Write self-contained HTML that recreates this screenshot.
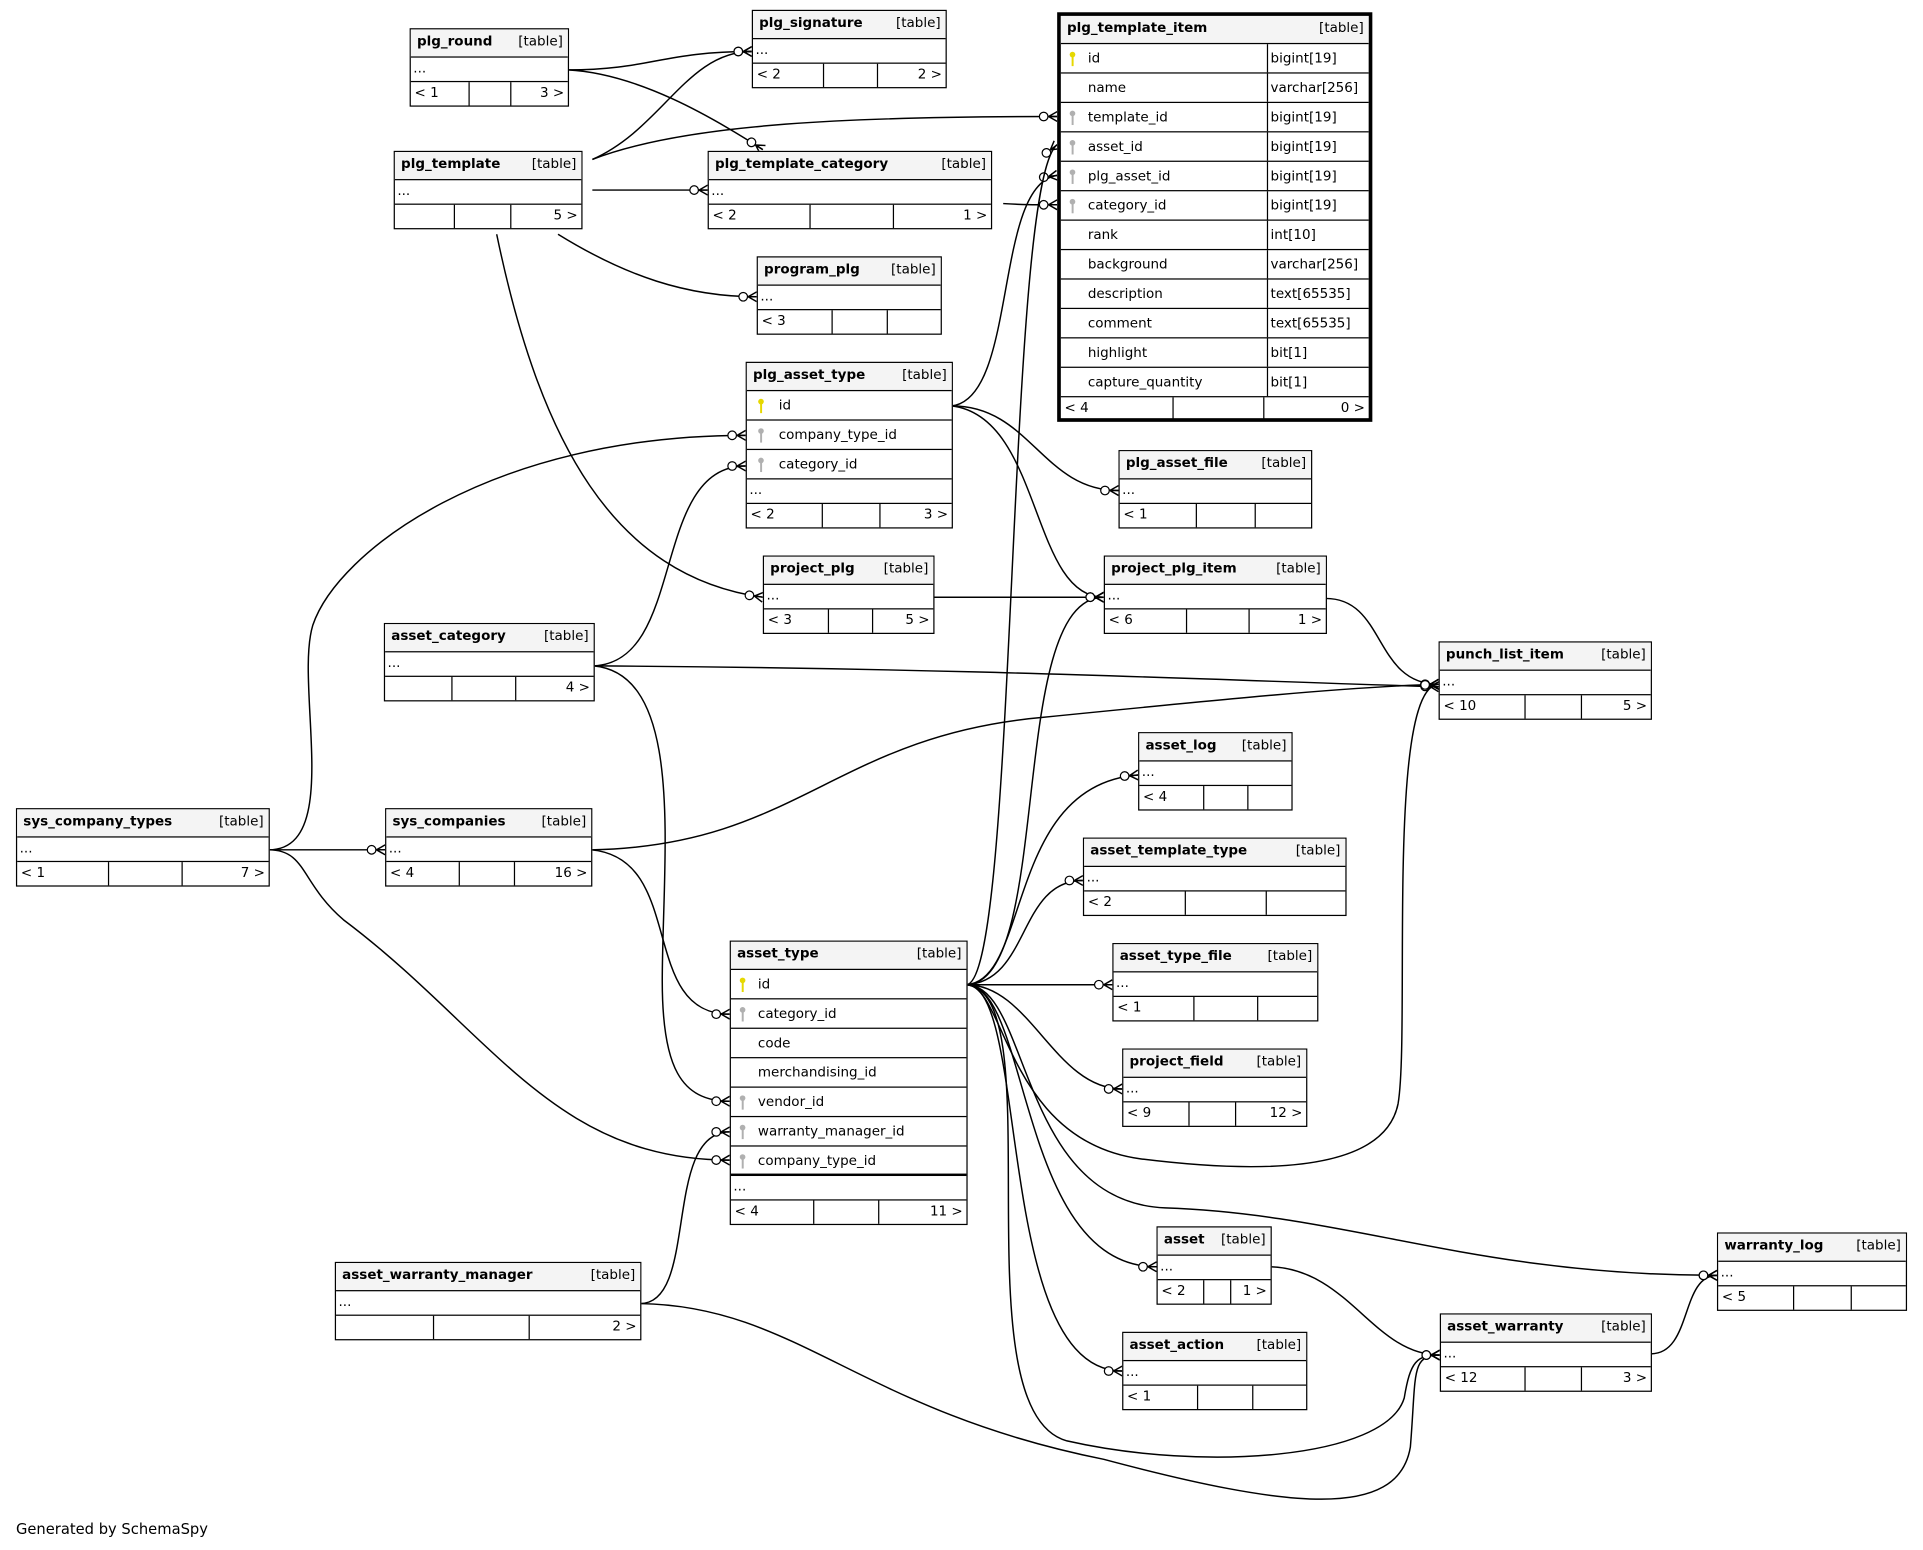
<!DOCTYPE html>
<html><head><meta charset="utf-8"><style>
html,body{margin:0;padding:0;background:#fff;width:1923px;height:1550px;overflow:hidden}
#c{position:absolute;left:0;top:0;width:1568px;height:1264px;transform:scale(1.2264,1.2263);transform-origin:0 0}
svg{position:absolute;left:0;top:0}
.t{position:absolute;border:1px solid #000;background:#fff;box-sizing:border-box;font:11px "DejaVu Sans","Liberation Sans",sans-serif;color:#000}
.t.b{border:3px solid #000}
.h{height:23px;background:#f4f4f4;border-bottom:1px solid #000;display:flex;justify-content:space-between;padding:3px 4px 0 5px;box-sizing:border-box;font-size:11px}
.h b{font-weight:bold}
.r{height:20px;border-bottom:1px solid #000;line-height:18px;padding-left:2px;box-sizing:border-box}
.c{height:24px;border-bottom:1px solid #000;line-height:23px;position:relative;padding-left:22px;box-sizing:border-box;display:flex}
.c .n{flex:1}
.c .y{border-left:1px solid #000;padding-left:2px}
.f{height:19px;display:flex;line-height:18px}
.f span{box-sizing:border-box;padding:0 3px}
.f span+span{border-left:1px solid #000}
.f span:last-child{text-align:right}
.k{position:absolute;left:7px;top:6px;width:5px;height:12px}
.foot{position:absolute;left:13px;top:1240px;font:12px "DejaVu Sans","Liberation Sans",sans-serif}
</style></head><body><div id="c">
<svg width="1568" height="1264" viewBox="0 0 1568 1264">
<defs>
<marker id="m" markerUnits="userSpaceOnUse" markerWidth="20" markerHeight="12" refX="18" refY="6" orient="auto" viewBox="0 0 20 12">
<circle cx="7" cy="6" r="3.5" fill="#fff" stroke="#000" stroke-width="1"/>
<path d="M11,6 L18,6 M11,6 L18,2 M11,6 L18,10" stroke="#000" stroke-width="1.2" fill="none"/>
</marker>
</defs>
<g fill="none" stroke="#000" stroke-width="1.2" marker-end="url(#m)">
<path d="M463,57 C530,57 540,42 613,42"/>
<path d="M463,57 C520,60 580,95 622,122"/>
<path d="M483,130 C540,105 560,42 613,42"/>
<path d="M483,130 C560,100 700,95 862,95"/>
<path d="M483,155 L577,155"/>
<path d="M455,191 C510,225 560,242 617,242"/>
<path d="M405,191 C440,360 500,470 622,487"/>
<path d="M818,166 C835,167 840,167 862,167"/>
<path d="M776,331 C830,325 810,150 862,143"/>
<path d="M776,331 C840,331 850,400 912,400"/>
<path d="M776,331 C850,340 840,487 900,487"/>
<path d="M219,693 C280,693 240,560 255,510 C275,450 400,355 608,355"/>
<path d="M484,543 C560,540 530,380 608,380"/>
<path d="M484,543 C800,545 1000,555 1173,560"/>
<path d="M484,543 C560,550 540,700 540,800 C540,870 555,898 595,898"/>
<path d="M761,487 L900,487"/>
<path d="M1081,488 C1130,488 1120,558 1173,558"/>
<path d="M482,693 C650,690 680,600 850,585 C1000,570 1100,560 1173,558"/>
<path d="M219,693 L314,693"/>
<path d="M482,693 C560,700 520,827 595,827"/>
<path d="M219,693 C250,693 245,720 280,750 C400,840 450,946 595,946"/>
<path d="M522,1063 C570,1063 540,923 595,923"/>
<path d="M522,1063 C650,1065 700,1150 900,1190 C1050,1230 1140,1240 1150,1180 C1155,1120 1150,1105 1174,1105"/>
<path d="M788,803 C830,800 820,150 862,118"/>
<path d="M788,803 C860,800 820,487 900,487"/>
<path d="M788,803 C840,800 820,640 928,632"/>
<path d="M788,803 C840,800 830,718 883,718"/>
<path d="M788,803 L907,803"/>
<path d="M788,803 C840,803 860,888 915,888"/>
<path d="M788,803 C820,803 820,930 930,945 C1050,960 1130,950 1140,900 C1150,840 1130,560 1173,558"/>
<path d="M788,803 C840,803 830,980 950,985 C1100,990 1200,1040 1400,1040"/>
<path d="M788,803 C840,803 830,1033 943,1033"/>
<path d="M788,803 C840,803 810,1118 915,1118"/>
<path d="M788,803 C860,810 780,1150 870,1175 C980,1200 1130,1190 1145,1140 C1150,1110 1155,1105 1174,1105"/>
<path d="M1036,1033 C1100,1035 1120,1105 1174,1105"/>
<path d="M1346,1104 C1380,1104 1370,1040 1400,1040"/>
</g>
</svg>

<div class="t" style="left:334px;top:23px;width:130px"><div class="h"><b>plg_round</b><span>[table]</span></div><div class="r">...</div><div class="f"><span style="width:47px">&lt; 1</span><span style="width:34px"></span><span style="flex:1">3 &gt;</span></div></div>

<div class="t" style="left:613px;top:8px;width:159px"><div class="h"><b>plg_signature</b><span>[table]</span></div><div class="r">...</div><div class="f"><span style="width:57px">&lt; 2</span><span style="width:44px"></span><span style="flex:1">2 &gt;</span></div></div>

<div class="t b" style="left:862px;top:10px;width:257px;height:334px"><div class="h"><b>plg_template_item</b><span>[table]</span></div>
<div class="c"><svg class="k" viewBox="0 0 5 12"><circle cx="2.5" cy="2.5" r="2.3" fill="#e6d800"/><rect x="1.8" y="3" width="1.6" height="9" fill="#e6d800"/></svg><span class="n">id</span><span class="y" style="width:80px">bigint[19]</span></div>
<div class="c"><span class="n">name</span><span class="y" style="width:80px">varchar[256]</span></div>
<div class="c"><svg class="k" viewBox="0 0 5 12"><circle cx="2.5" cy="2.5" r="2.3" fill="#b0b0b0"/><rect x="1.8" y="3" width="1.6" height="9" fill="#b0b0b0"/></svg><span class="n">template_id</span><span class="y" style="width:80px">bigint[19]</span></div>
<div class="c"><svg class="k" viewBox="0 0 5 12"><circle cx="2.5" cy="2.5" r="2.3" fill="#b0b0b0"/><rect x="1.8" y="3" width="1.6" height="9" fill="#b0b0b0"/></svg><span class="n">asset_id</span><span class="y" style="width:80px">bigint[19]</span></div>
<div class="c"><svg class="k" viewBox="0 0 5 12"><circle cx="2.5" cy="2.5" r="2.3" fill="#b0b0b0"/><rect x="1.8" y="3" width="1.6" height="9" fill="#b0b0b0"/></svg><span class="n">plg_asset_id</span><span class="y" style="width:80px">bigint[19]</span></div>
<div class="c"><svg class="k" viewBox="0 0 5 12"><circle cx="2.5" cy="2.5" r="2.3" fill="#b0b0b0"/><rect x="1.8" y="3" width="1.6" height="9" fill="#b0b0b0"/></svg><span class="n">category_id</span><span class="y" style="width:80px">bigint[19]</span></div>
<div class="c"><span class="n">rank</span><span class="y" style="width:80px">int[10]</span></div>
<div class="c"><span class="n">background</span><span class="y" style="width:80px">varchar[256]</span></div>
<div class="c"><span class="n">description</span><span class="y" style="width:80px">text[65535]</span></div>
<div class="c"><span class="n">comment</span><span class="y" style="width:80px">text[65535]</span></div>
<div class="c"><span class="n">highlight</span><span class="y" style="width:80px">bit[1]</span></div>
<div class="c"><span class="n">capture_quantity</span><span class="y" style="width:80px">bit[1]</span></div>
<div class="f"><span style="width:91px">&lt; 4</span><span style="width:74px"></span><span style="flex:1">0 &gt;</span></div></div>

<div class="t" style="left:321px;top:123px;width:154px"><div class="h"><b>plg_template</b><span>[table]</span></div><div class="r">...</div><div class="f"><span style="width:48px"></span><span style="width:46px"></span><span style="flex:1">5 &gt;</span></div></div>

<div class="t" style="left:577px;top:123px;width:232px"><div class="h"><b>plg_template_category</b><span>[table]</span></div><div class="r">...</div><div class="f"><span style="width:82px">&lt; 2</span><span style="width:68px"></span><span style="flex:1">1 &gt;</span></div></div>

<div class="t" style="left:617px;top:209px;width:151px"><div class="h"><b>program_plg</b><span>[table]</span></div><div class="r">...</div><div class="f"><span style="width:60px">&lt; 3</span><span style="width:45px"></span><span style="flex:1"></span></div></div>

<div class="t" style="left:608px;top:295px;width:169px;height:136px"><div class="h"><b>plg_asset_type</b><span>[table]</span></div>
<div class="c" style="padding-left:26px"><svg class="k" style="left:9px" viewBox="0 0 5 12"><circle cx="2.5" cy="2.5" r="2.3" fill="#e6d800"/><rect x="1.8" y="3" width="1.6" height="9" fill="#e6d800"/></svg><span class="n">id</span></div>
<div class="c" style="padding-left:26px"><svg class="k" style="left:9px" viewBox="0 0 5 12"><circle cx="2.5" cy="2.5" r="2.3" fill="#b0b0b0"/><rect x="1.8" y="3" width="1.6" height="9" fill="#b0b0b0"/></svg><span class="n">company_type_id</span></div>
<div class="c" style="padding-left:26px"><svg class="k" style="left:9px" viewBox="0 0 5 12"><circle cx="2.5" cy="2.5" r="2.3" fill="#b0b0b0"/><rect x="1.8" y="3" width="1.6" height="9" fill="#b0b0b0"/></svg><span class="n">category_id</span></div>
<div class="r">...</div><div class="f"><span style="width:61px">&lt; 2</span><span style="width:47px"></span><span style="flex:1">3 &gt;</span></div></div>

<div class="t" style="left:912px;top:367px;width:158px"><div class="h"><b>plg_asset_file</b><span>[table]</span></div><div class="r">...</div><div class="f"><span style="width:62px">&lt; 1</span><span style="width:48px"></span><span style="flex:1"></span></div></div>

<div class="t" style="left:622px;top:453px;width:140px"><div class="h"><b>project_plg</b><span>[table]</span></div><div class="r">...</div><div class="f"><span style="width:52px">&lt; 3</span><span style="width:36px"></span><span style="flex:1">5 &gt;</span></div></div>

<div class="t" style="left:900px;top:453px;width:182px"><div class="h"><b>project_plg_item</b><span>[table]</span></div><div class="r">...</div><div class="f"><span style="width:66px">&lt; 6</span><span style="width:51px"></span><span style="flex:1">1 &gt;</span></div></div>

<div class="t" style="left:313px;top:508px;width:172px"><div class="h"><b>asset_category</b><span>[table]</span></div><div class="r">...</div><div class="f"><span style="width:54px"></span><span style="width:52px"></span><span style="flex:1">4 &gt;</span></div></div>

<div class="t" style="left:1173px;top:523px;width:174px"><div class="h"><b>punch_list_item</b><span>[table]</span></div><div class="r">...</div><div class="f"><span style="width:69px">&lt; 10</span><span style="width:46px"></span><span style="flex:1">5 &gt;</span></div></div>

<div class="t" style="left:928px;top:597px;width:126px"><div class="h"><b>asset_log</b><span>[table]</span></div><div class="r">...</div><div class="f"><span style="width:52px">&lt; 4</span><span style="width:36px"></span><span style="flex:1"></span></div></div>

<div class="t" style="left:13px;top:659px;width:207px"><div class="h"><b>sys_company_types</b><span>[table]</span></div><div class="r">...</div><div class="f"><span style="width:74px">&lt; 1</span><span style="width:60px"></span><span style="flex:1">7 &gt;</span></div></div>

<div class="t" style="left:314px;top:659px;width:169px"><div class="h"><b>sys_companies</b><span>[table]</span></div><div class="r">...</div><div class="f"><span style="width:59px">&lt; 4</span><span style="width:45px"></span><span style="flex:1">16 &gt;</span></div></div>

<div class="t" style="left:883px;top:683px;width:215px"><div class="h"><b>asset_template_type</b><span>[table]</span></div><div class="r">...</div><div class="f"><span style="width:82px">&lt; 2</span><span style="width:66px"></span><span style="flex:1"></span></div></div>

<div class="t" style="left:907px;top:769px;width:168px"><div class="h"><b>asset_type_file</b><span>[table]</span></div><div class="r">...</div><div class="f"><span style="width:65px">&lt; 1</span><span style="width:52px"></span><span style="flex:1"></span></div></div>

<div class="t" style="left:595px;top:767px;width:194px;height:232px"><div class="h"><b>asset_type</b><span>[table]</span></div>
<div class="c"><svg class="k" viewBox="0 0 5 12"><circle cx="2.5" cy="2.5" r="2.3" fill="#e6d800"/><rect x="1.8" y="3" width="1.6" height="9" fill="#e6d800"/></svg><span class="n">id</span></div>
<div class="c"><svg class="k" viewBox="0 0 5 12"><circle cx="2.5" cy="2.5" r="2.3" fill="#b0b0b0"/><rect x="1.8" y="3" width="1.6" height="9" fill="#b0b0b0"/></svg><span class="n">category_id</span></div>
<div class="c"><span class="n">code</span></div>
<div class="c"><span class="n">merchandising_id</span></div>
<div class="c"><svg class="k" viewBox="0 0 5 12"><circle cx="2.5" cy="2.5" r="2.3" fill="#b0b0b0"/><rect x="1.8" y="3" width="1.6" height="9" fill="#b0b0b0"/></svg><span class="n">vendor_id</span></div>
<div class="c"><svg class="k" viewBox="0 0 5 12"><circle cx="2.5" cy="2.5" r="2.3" fill="#b0b0b0"/><rect x="1.8" y="3" width="1.6" height="9" fill="#b0b0b0"/></svg><span class="n">warranty_manager_id</span></div>
<div class="c" style="border-bottom-width:2px"><svg class="k" viewBox="0 0 5 12"><circle cx="2.5" cy="2.5" r="2.3" fill="#b0b0b0"/><rect x="1.8" y="3" width="1.6" height="9" fill="#b0b0b0"/></svg><span class="n">company_type_id</span></div>
<div class="r">...</div><div class="f"><span style="width:67px">&lt; 4</span><span style="width:53px"></span><span style="flex:1">11 &gt;</span></div></div>

<div class="t" style="left:915px;top:855px;width:151px"><div class="h"><b>project_field</b><span>[table]</span></div><div class="r">...</div><div class="f"><span style="width:53px">&lt; 9</span><span style="width:38px"></span><span style="flex:1">12 &gt;</span></div></div>

<div class="t" style="left:943px;top:1000px;width:94px"><div class="h"><b>asset</b><span>[table]</span></div><div class="r">...</div><div class="f"><span style="width:37px">&lt; 2</span><span style="width:22px"></span><span style="flex:1">1 &gt;</span></div></div>

<div class="t" style="left:1400px;top:1005px;width:155px"><div class="h"><b>warranty_log</b><span>[table]</span></div><div class="r">...</div><div class="f"><span style="width:61px">&lt; 5</span><span style="width:47px"></span><span style="flex:1"></span></div></div>

<div class="t" style="left:273px;top:1029px;width:250px"><div class="h"><b>asset_warranty_manager</b><span>[table]</span></div><div class="r">...</div><div class="f"><span style="width:79px"></span><span style="width:78px"></span><span style="flex:1">2 &gt;</span></div></div>

<div class="t" style="left:915px;top:1086px;width:151px"><div class="h"><b>asset_action</b><span>[table]</span></div><div class="r">...</div><div class="f"><span style="width:60px">&lt; 1</span><span style="width:45px"></span><span style="flex:1"></span></div></div>

<div class="t" style="left:1174px;top:1071px;width:173px"><div class="h"><b>asset_warranty</b><span>[table]</span></div><div class="r">...</div><div class="f"><span style="width:68px">&lt; 12</span><span style="width:46px"></span><span style="flex:1">3 &gt;</span></div></div>

<div class="foot">Generated by SchemaSpy</div>
</div></body></html>
